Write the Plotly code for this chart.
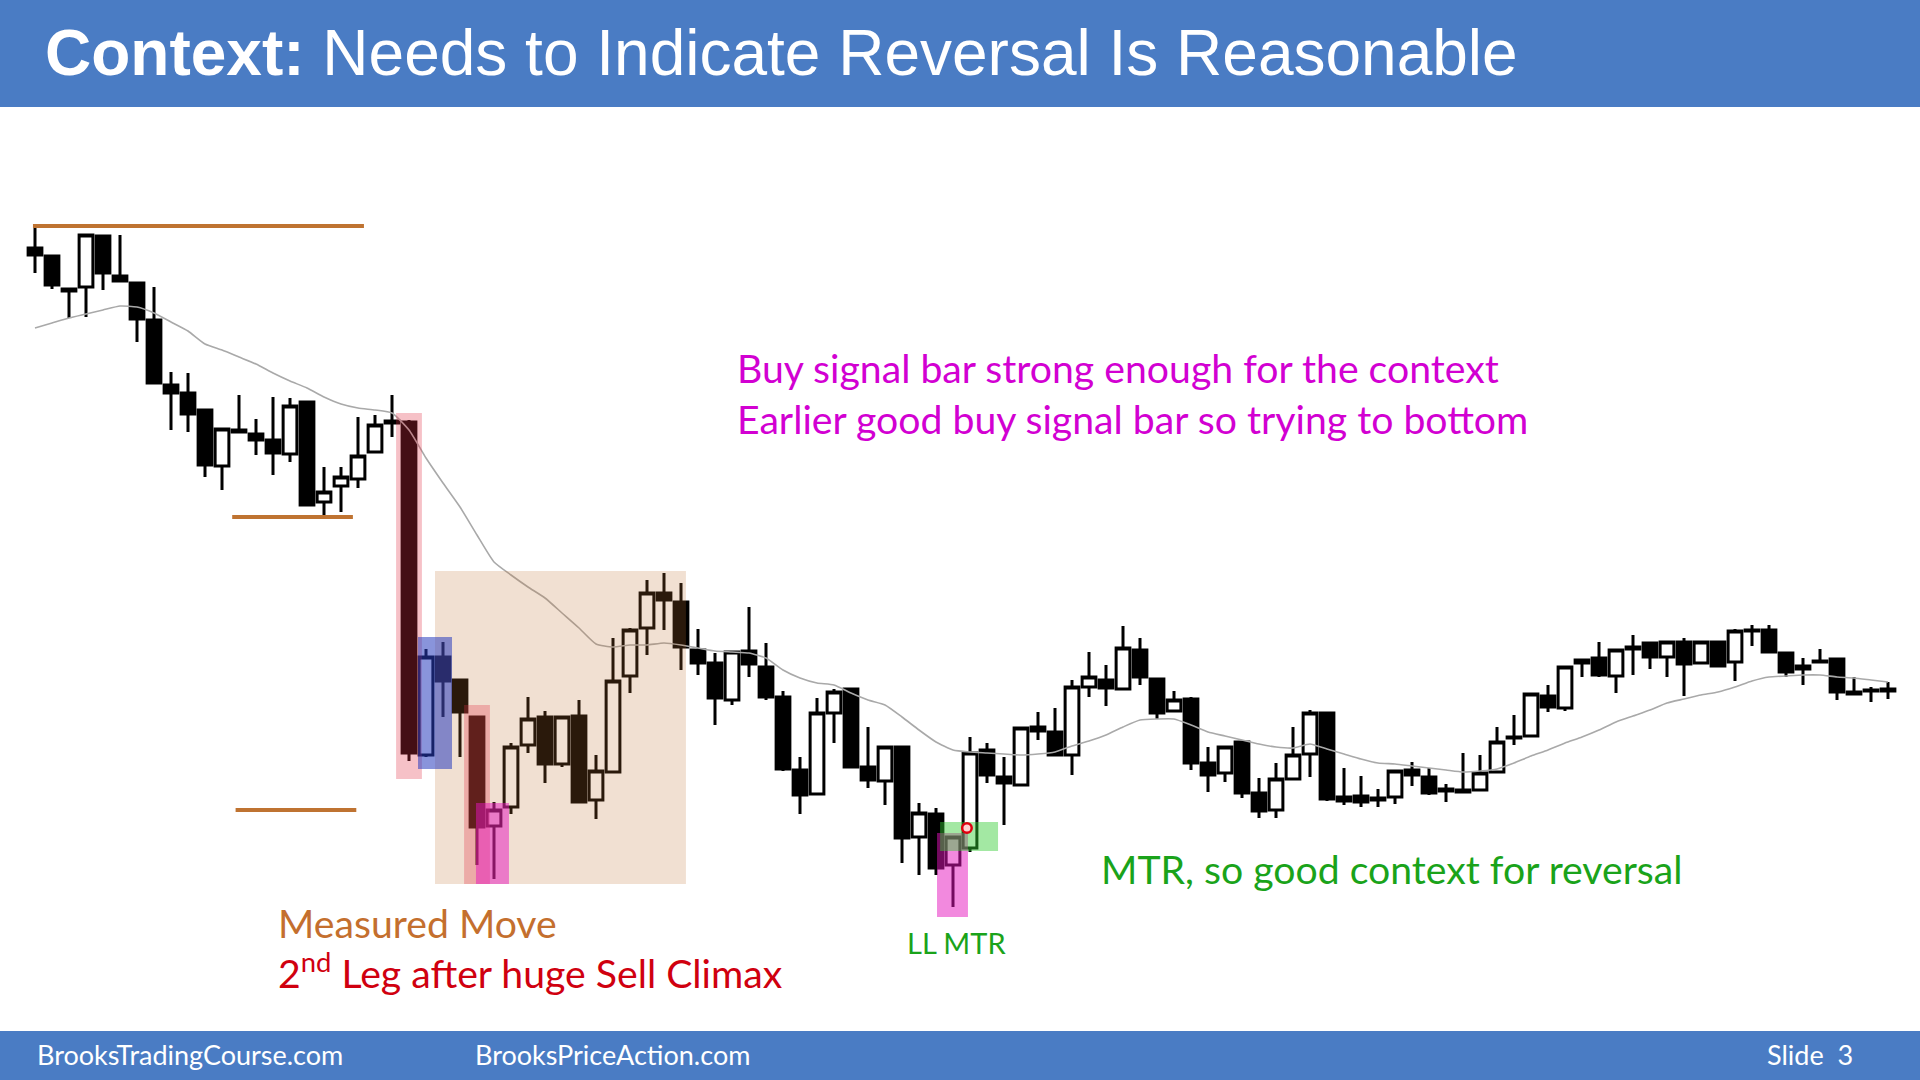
import plotly.graph_objects as go

# ---------------- data ----------------
open_ = [752, 744, 711, 713, 764, 724, 717, 680, 615, 607,
         590, 534, 570, 566, 560, 546, 598, 498, 514, 521,
         548, 579, 578, 245, 343, 320, 283, 174, 193, 255,
         283, 236, 284, 200, 228, 324, 372, 407, 398, 350,
         337, 300, 349, 333, 303, 230, 206, 287, 311, 233,
         219, 253, 163, 186, 135, 152, 250, 223, 215, 273,
         268, 245, 313, 320, 311, 350, 321, 289, 301, 237,
         227, 258, 207, 190, 221, 246, 287, 203, 204, 202,
         203, 230, 223, 211, 208, 210, 228, 263, 264, 304,
         292, 337, 342, 324, 351, 357, 343, 358, 337, 358,
         338, 370, 370, 347, 331, 339, 341, 308, 310, 311]
high = [772, 744, 712, 766, 765, 765, 718, 713, 628, 627,
        590, 571, 605, 581, 603, 602, 599, 533, 533, 583,
        585, 605, 580, 351, 358, 321, 284, 198, 257, 303,
        289, 284, 300, 245, 362, 372, 420, 427, 417, 371,
        347, 348, 393, 357, 309, 243, 302, 311, 311, 273,
        254, 253, 197, 192, 164, 263, 257, 243, 273, 288,
        292, 320, 348, 335, 374, 362, 321, 309, 303, 253,
        254, 258, 222, 237, 273, 290, 287, 232, 224, 211,
        230, 238, 232, 216, 247, 245, 273, 285, 306, 315,
        334, 340, 358, 350, 365, 357, 358, 362, 358, 358,
        371, 375, 375, 347, 342, 351, 341, 323, 313, 318]
low = [727, 711, 682, 683, 710, 718, 658, 617, 570, 568,
       523, 510, 568, 545, 525, 538, 495, 485, 488, 512,
       548, 563, 239, 243, 283, 243, 135, 121, 186, 247,
       217, 233, 197, 181, 228, 307, 345, 370, 330, 325,
       275, 295, 323, 300, 229, 186, 206, 257, 232, 212,
       195, 137, 125, 125, 93, 148, 217, 175, 214, 260,
       245, 225, 303, 294, 310, 315, 281, 288, 230, 208,
       218, 202, 182, 182, 220, 223, 199, 195, 193, 193,
       196, 214, 205, 198, 207, 210, 228, 255, 263, 288,
       289, 323, 323, 307, 325, 331, 323, 304, 337, 333,
       319, 354, 347, 323, 315, 337, 300, 306, 298, 301]
close = [745, 715, 709, 765, 727, 719, 681, 617, 607, 586,
         535, 571, 568, 560, 547, 594, 495, 508, 523, 544,
         575, 577, 247, 343, 319, 288, 173, 190, 253, 281,
         236, 283, 198, 229, 319, 370, 407, 400, 353, 337,
         302, 348, 336, 303, 231, 205, 287, 308, 233, 220,
         253, 162, 187, 132, 163, 247, 225, 217, 272, 269,
         245, 313, 323, 312, 352, 323, 287, 300, 237, 225,
         253, 207, 189, 221, 245, 287, 201, 199, 198, 200,
         229, 225, 207, 209, 210, 227, 258, 262, 306, 293,
         333, 340, 325, 350, 353, 343, 358, 336, 358, 334,
         369, 369, 348, 328, 334, 338, 308, 306, 309, 309]
ema20 = [672, 677, 682, 686, 690, 694, 693, 687, 678, 669,
         656, 650, 643, 636, 627, 619, 612, 603, 596, 592,
         590, 587, 570, 542, 517, 493, 465, 438, 425, 413,
         402, 387, 372, 356, 353, 355, 355, 357, 355, 352,
         349, 348, 347, 342, 330, 322, 317, 315, 307, 300,
         295, 283, 270, 258, 250, 248, 247, 246, 245, 246,
         248, 254, 259, 265, 273, 280, 281, 281, 275, 268,
         264, 260, 256, 253, 252, 256, 251, 246, 241, 237,
         236, 234, 232, 230, 228, 229, 231, 237, 244, 250,
         257, 263, 270, 278, 284, 290, 297, 301, 305, 308,
         313, 319, 323, 324, 325, 325, 323, 322, 320, 318]
bar_index = list(range(len(open_)))

# reference levels (bar index span, price)
levels = [(-0.12, 19.35, 774), (11.6, 18.7, 483), (11.8, 18.9, 190)]
# highlight zones: (x0, x1, y0, y1, colour)
zones = [
    (23.53, 38.29, 116, 429, "rgba(191,115,49,0.22)"),   # measured-move zone
    (21.24, 22.76, 221, 587, "rgba(225,50,70,0.30)"),    # sell climax bar
    (22.53, 24.53, 231, 363, "rgba(40,60,190,0.55)"),    # pullback
    (25.24, 26.76, 116, 295, "rgba(225,50,70,0.30)"),    # 2nd leg bar
    (25.94, 27.88, 116, 197, "rgba(230,20,190,0.50)"),   # earlier buy signal bar
    (53.06, 54.88, 83, 167, "rgba(230,20,190,0.50)"),    # LL MTR bar
    (53.24, 56.65, 149, 178, "rgba(50,205,50,0.45)"),    # buy signal bar
]
signal_point = (54.82, 172)

W, H = 1920, 1080
def px(x):
    return x / W
def py(y):
    return 1 - y / H

fig = go.Figure()
fig.add_trace(go.Candlestick(
    x=bar_index, open=open_, high=high, low=low, close=close,
    increasing=dict(fillcolor="white", line=dict(color="black", width=3)),
    decreasing=dict(fillcolor="black", line=dict(color="black", width=3)),
    whiskerwidth=0, showlegend=False, hoverinfo="skip"))
fig.add_trace(go.Scatter(
    x=bar_index, y=ema20, mode="lines",
    line=dict(color="#A9A9A9", width=1.6, shape="spline", smoothing=0.5),
    showlegend=False, hoverinfo="skip"))

shapes = []
# header and footer bands
shapes.append(dict(type="rect", xref="paper", yref="paper", x0=0, x1=1, y0=py(107), y1=1,
                   fillcolor="#4A7CC4", line=dict(width=0), layer="above"))
shapes.append(dict(type="rect", xref="paper", yref="paper", x0=0, x1=1, y0=0, y1=py(1031),
                   fillcolor="#4A7CC4", line=dict(width=0), layer="above"))
for x0, x1, y0, y1, col in zones:
    shapes.append(dict(type="rect", xref="x", yref="y", x0=x0, x1=x1, y0=y0, y1=y1,
                       fillcolor=col, line=dict(width=0), layer="above"))
for x0, x1, lv in levels:
    shapes.append(dict(type="line", xref="x", yref="y", x0=x0, x1=x1, y0=lv, y1=lv,
                       line=dict(color="#BF7331", width=4), layer="above"))
cx, cy = signal_point
shapes.append(dict(type="circle", xref="x", yref="y", x0=cx - 0.28, x1=cx + 0.28,
                   y0=cy - 4.8, y1=cy + 4.8, fillcolor="#FFD0D0",
                   line=dict(color="#E00010", width=2.5), layer="above"))

ann = []
ann.append(dict(text="<b>Context:</b> Needs to Indicate Reversal Is Reasonable",
                x=px(43), y=py(53), xanchor="left", yanchor="middle",
                font=dict(family="Liberation Sans, Arial", size=64, color="white")))
foot = dict(family="Lato", size=27, color="white")
ann.append(dict(text="BrooksTradingCourse.com", x=px(35), y=py(1054), xanchor="left", yanchor="middle", font=foot))
ann.append(dict(text="BrooksPriceAction.com", x=px(473), y=py(1054), xanchor="left", yanchor="middle", font=foot))
ann.append(dict(text="Slide\u00a0 3", x=px(1765), y=py(1054), xanchor="left", yanchor="middle", font=foot))

body = "Lato"
fs = 39.2
ann.append(dict(text="Buy signal bar strong enough for the context", x=px(735), y=py(367),
                xanchor="left", yanchor="middle", font=dict(family=body, size=fs, color="#D200D2")))
ann.append(dict(text="Earlier good buy signal bar so trying to bottom", x=px(735), y=py(418),
                xanchor="left", yanchor="middle", font=dict(family=body, size=fs, color="#D200D2")))
ann.append(dict(text="MTR, so good context for reversal", x=px(1099), y=py(868),
                xanchor="left", yanchor="middle", font=dict(family=body, size=fs, color="#1AA31A")))
ann.append(dict(text="LL MTR", x=px(956), y=py(942),
                xanchor="center", yanchor="middle", font=dict(family=body, size=29, color="#1AA31A")))
ann.append(dict(text="Measured Move", x=px(276), y=py(922),
                xanchor="left", yanchor="middle", font=dict(family=body, size=fs, color="#C46F2E")))
ann.append(dict(text="2<sup>nd</sup> Leg after huge Sell Climax", x=px(276), y=py(970),
                xanchor="left", yanchor="middle", font=dict(family=body, size=fs, color="#D0000F")))
for a in ann:
    a.update(xref="paper", yref="paper", showarrow=False)

fig.update_layout(
    width=W, height=H, margin=dict(l=0, r=0, t=0, b=0, pad=0),
    paper_bgcolor="white", plot_bgcolor="white",
    xaxis=dict(range=[-35 / 17, (W - 35) / 17], visible=False, showgrid=False,
               zeroline=False, rangeslider=dict(visible=False), fixedrange=True),
    yaxis=dict(range=[-80, 1000], visible=False, showgrid=False, zeroline=False, fixedrange=True),
    boxgap=0.1, boxgroupgap=0.1, showlegend=False,
    shapes=shapes, annotations=ann)

fig.write_html("out.html", config={"displayModeBar": False},
               post_script="document.body.style.margin='0';document.body.style.overflow='hidden';")
